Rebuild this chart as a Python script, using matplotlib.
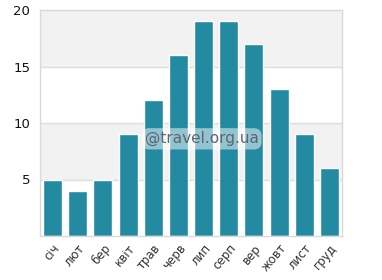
import matplotlib
matplotlib.use('Agg')
import matplotlib.pyplot as plt
import numpy as np

months = ['січ', 'лют', 'бер', 'квіт', 'трав', 'черв', 'лип', 'серп', 'вер', 'жовт', 'лист', 'груд']
values = [5, 4, 5, 9, 12, 16, 19, 19, 17, 13, 9, 6]
y_ticks = [5, 10, 15, 20]

fig = plt.figure(figsize=(3.82, 2.8), dpi=100)
ax = fig.add_axes([40 / 382, 44 / 280, 302 / 382, 226 / 280])

# alternating bands
for lo, hi in [(5, 10), (15, 20)]:
    ax.axhspan(lo, hi, color='#f2f2f2', zorder=0, lw=0)
for y in y_ticks[:-1]:
    ax.axhline(y, color='#dddddd', lw=1, zorder=1)

x = np.arange(len(months))
ax.bar(x, values, width=0.76, color='#248aa2', edgecolor='white', linewidth=1, zorder=2)

ax.set_xlim(-0.5, len(months) - 0.5)
ax.set_ylim(0, 20)
ax.set_yticks(y_ticks)
ax.set_xticks(x)
ax.set_xticklabels(months, rotation=50, ha='right', rotation_mode='anchor', fontsize=8.5, color='#333333')
ax.tick_params(axis='y', labelsize=9.5, length=0, pad=7, labelcolor='#111111')
ax.tick_params(axis='x', length=0, pad=4)
for s in ax.spines.values():
    s.set_color('#d9d9d9')
    s.set_linewidth(1)

ax.text(0.535, 0.43, '@travel.org.ua', transform=ax.transAxes, ha='center', va='center',
        fontsize=11, color='#5a6670', zorder=5,
        bbox=dict(boxstyle='round,pad=0.2,rounding_size=0.5', fc='white', ec='none', alpha=0.5))

fig.savefig('out.png', dpi=100)
